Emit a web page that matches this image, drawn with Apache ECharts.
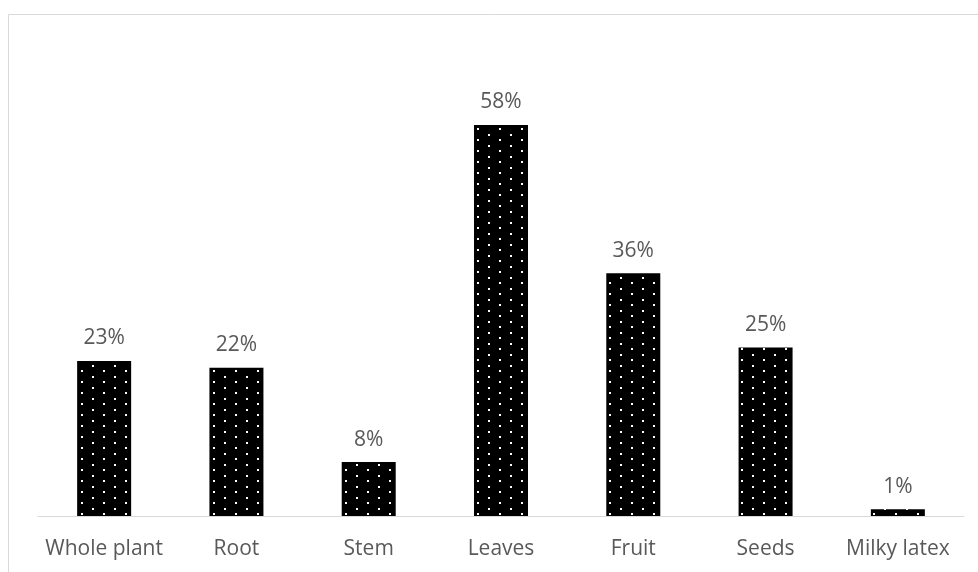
<!DOCTYPE html>
<html>
<head>
<meta charset="utf-8">
<script src="https://cdn.jsdelivr.net/npm/echarts@6/dist/echarts.min.js"></script>
<style>
  html, body { margin: 0; padding: 0; background: #fff; }
  #chart { width: 978px; height: 572px; }
</style>
</head>
<body>
<div id="chart"></div>
<script>
// 部位与比例
const categories = ['Whole plant', 'Root', 'Stem', 'Leaves', 'Fruit', 'Seeds', 'Milky latex'];
const percentages = [23, 22, 8, 58, 36, 25, 1];

// 黑底白点的填充图案
function makeDotPattern() {
    const c = document.createElement('canvas');
    c.width = 22;
    c.height = 11;
    const g = c.getContext('2d');
    g.fillStyle = '#000';
    g.fillRect(0, 0, 22, 11);
    g.fillStyle = '#fff';
    g.fillRect(4, 2, 2, 2);
    g.fillRect(15, 7, 2, 2);
    return c;
}

const chart = echarts.init(document.getElementById('chart'));

const option = {
    backgroundColor: '#fff',
    animation: false,
    graphic: [{
        type: 'rect',
        shape: { x: 8.5, y: 14.5, width: 1000, height: 1000 },
        style: { fill: 'none', stroke: '#d9d9d9', lineWidth: 1 },
        silent: true
    }],
    grid: { left: 38, right: 14, top: 44, bottom: 56 },
    xAxis: {
        type: 'category',
        data: categories,
        axisLine: { lineStyle: { color: '#d9d9d9', width: 1 } },
        axisTick: { show: false },
        axisLabel: {
            interval: 0,
            color: '#595959',
            fontSize: 21,
            fontFamily: 'Open Sans',
            margin: 23
        }
    },
    yAxis: {
        type: 'value',
        min: 0,
        max: 70,
        show: false
    },
    series: [{
        type: 'bar',
        data: percentages,
        barWidth: 54,
        itemStyle: {
            color: { image: makeDotPattern(), repeat: 'repeat' }
        },
        label: {
            show: true,
            position: 'top',
            distance: 12,
            color: '#595959',
            fontSize: 21,
            fontFamily: 'Open Sans',
            formatter: p => p.value + '%'
        }
    }]
};

chart.setOption(option);
</script>
</body>
</html>
